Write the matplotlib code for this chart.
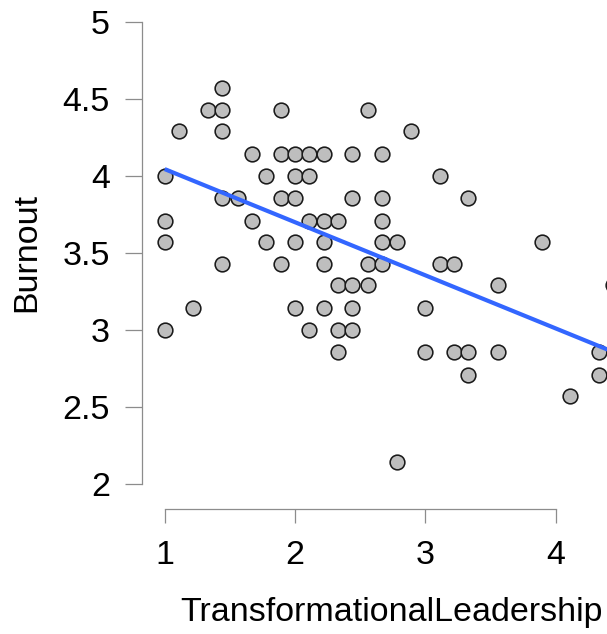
import matplotlib
matplotlib.use("Agg")
import matplotlib.pyplot as plt
import numpy as np

# values (x in ninths, y in sevenths)
leadership = [
    1.44,
    1.33, 1.44, 1.89, 2.56,
    1.11, 1.44, 2.89,
    1.67, 1.89, 2.00, 2.11, 2.22, 2.44, 2.67,
    1.00, 1.78, 2.00, 2.11, 3.11,
    1.44, 1.56, 1.89, 2.00, 2.44, 2.67, 3.33,
    1.00, 1.67, 2.11, 2.22, 2.33, 2.67,
    1.00, 1.78, 2.00, 2.22, 2.67, 2.78, 3.89,
    1.44, 1.89, 2.22, 2.56, 2.67, 3.11, 3.22,
    2.33, 2.44, 2.56, 3.56, 4.44,
    1.22, 2.00, 2.22, 2.44, 3.00,
    1.00, 2.11, 2.33, 2.44,
    2.33, 3.00, 3.22, 3.33, 3.56, 4.33,
    3.33, 4.33,
    4.11,
    2.78,
]
burnout = [
    4.57,
    4.43, 4.43, 4.43, 4.43,
    4.29, 4.29, 4.29,
    4.14, 4.14, 4.14, 4.14, 4.14, 4.14, 4.14,
    4.00, 4.00, 4.00, 4.00, 4.00,
    3.86, 3.86, 3.86, 3.86, 3.86, 3.86, 3.86,
    3.71, 3.71, 3.71, 3.71, 3.71, 3.71,
    3.57, 3.57, 3.57, 3.57, 3.57, 3.57, 3.57,
    3.43, 3.43, 3.43, 3.43, 3.43, 3.43, 3.43,
    3.29, 3.29, 3.29, 3.29, 3.29,
    3.14, 3.14, 3.14, 3.14, 3.14,
    3.00, 3.00, 3.00, 3.00,
    2.86, 2.86, 2.86, 2.86, 2.86, 2.86,
    2.71, 2.71,
    2.57,
    2.14,
]

# regression line
fit_intercept = 4.39
fit_slope = -0.345

x_ticks = [1, 2, 3, 4]
y_ticks = [2, 2.5, 3, 3.5, 4, 4.5, 5]
y_tick_labels = ["2", "2.5", "3", "3.5", "4", "4.5", "5"]

plt.rcParams["font.family"] = ["Liberation Sans", "DejaVu Sans"]

W, H = 607, 634
AXIS_GREY = "#8c8c8c"
FS = 24.5

fig = plt.figure(figsize=(W / 100, H / 100), dpi=100)
fig.patch.set_facecolor("white")
# axes run past the right edge of the figure, the picture is cropped there
ax = fig.add_axes([142 / W, 1 - 509.3 / H, 499 / W, 499.3 / H])
ax.set_xlim(0.826, 4.653)
ax.set_ylim(1.836, 5.078)

x = np.array(leadership)
y = np.array(burnout)

ax.scatter(x, y, s=112, facecolor="#bebebe", edgecolor="#1a1a1a",
           linewidth=1.15, zorder=2, clip_on=False)

xs = np.array([x.min(), x.max()])
ax.plot(xs, fit_intercept + fit_slope * xs, color="#3366ff", lw=3.0,
        solid_capstyle="butt", zorder=3)

# ── axes in the detached style ───────────────────────────────────────────────
for side in ("top", "right"):
    ax.spines[side].set_visible(False)
for side in ("left", "bottom"):
    ax.spines[side].set_color(AXIS_GREY)
    ax.spines[side].set_linewidth(0.9)
ax.spines["left"].set_bounds(y_ticks[0], y_ticks[-1])
ax.spines["bottom"].set_bounds(x_ticks[0], x_ticks[-1])

ax.set_xticks(x_ticks)
ax.set_xticklabels([str(t) for t in x_ticks])
ax.set_yticks(y_ticks)
ax.set_yticklabels(y_tick_labels)
ax.tick_params(axis="y", length=12.2, width=0.9, color=AXIS_GREY,
               pad=11, labelsize=FS, labelcolor="black")
ax.tick_params(axis="x", length=10, width=0.9, color=AXIS_GREY,
               pad=12, labelsize=FS, labelcolor="black")

fig.text(391.5 / W, 1 - 613 / H, "TransformationalLeadership",
         ha="center", va="center", fontsize=FS)
fig.text(27 / W, 1 - 252 / H, "Burnout", rotation=90,
         ha="center", va="center", fontsize=FS)

fig.savefig("out.png", dpi=100, facecolor=fig.get_facecolor())
plt.close(fig)
